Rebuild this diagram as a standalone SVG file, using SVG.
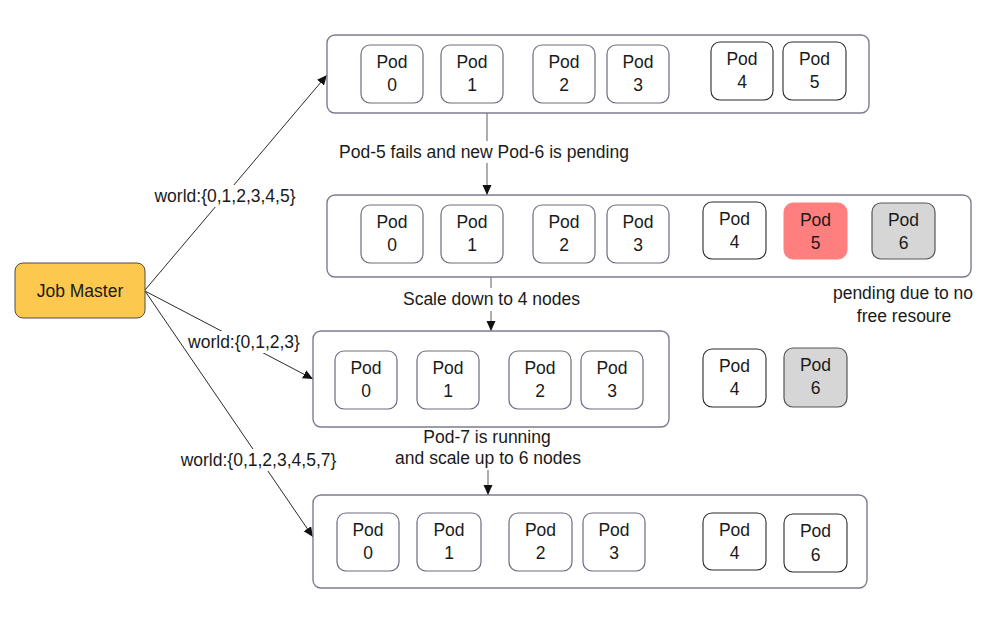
<svg xmlns="http://www.w3.org/2000/svg" width="988" height="618" viewBox="0 0 988 618">
<defs>
<marker id="arr" markerWidth="10" markerHeight="10" refX="10" refY="5" orient="auto" markerUnits="userSpaceOnUse" viewBox="0 0 10 10">
<path d="M0,0.5 L10,5 L0,9.5 Z" fill="#111"/>
</marker>
<style>
text{font-family:"Liberation Sans",Arial,sans-serif;font-size:17.5px;fill:#1a1a1a;text-anchor:middle}
.box{fill:#fff;stroke:#7c7c90;stroke-width:1.4}
.pod{fill:#fff;stroke:#6c6c80;stroke-width:1.2}
.podk{fill:#fff;stroke:#2a2a2a;stroke-width:1.1}
.red{fill:#FF7F7F;stroke:#FF7F7F;stroke-width:1}
.gray{fill:#D6D6D6;stroke:#555;stroke-width:1.2}
.ln{fill:none;stroke:#111;stroke-width:0.9}
.vl{fill:none;stroke:#777;stroke-width:1.2}
.bg{fill:#fff}
</style>
</defs>
<rect width="988" height="618" fill="#fff"/>

<g id="connectors">
<path class="ln" d="M145,290 L327,75" marker-end="url(#arr)"/>
<path class="ln" d="M145,291 L313,379" marker-end="url(#arr)"/>
<path class="ln" d="M145,291 L313,537" marker-end="url(#arr)"/>
<path class="vl" d="M487,113 L487,195" marker-end="url(#arr)"/>
<path class="vl" d="M491,277 L491,331" marker-end="url(#arr)"/>
<path class="vl" d="M488,427 L488,495" marker-end="url(#arr)"/>
</g>

<g id="jobmaster">
<rect x="15" y="263" width="130" height="55" rx="8" fill="#FCC84E" stroke="#4d4d4d" stroke-width="1"/>
<text x="80" y="297">Job Master</text>
</g>

<g id="labels">
<rect class="bg" x="154" y="185" width="142" height="22"/>
<text x="225" y="202">world:{0,1,2,3,4,5}</text>
<rect class="bg" x="189" y="331" width="110" height="22"/>
<text x="244" y="348">world:{0,1,2,3}</text>
<rect class="bg" x="181" y="449" width="155" height="22"/>
<text x="258.5" y="466">world:{0,1,2,3,4,5,7}</text>
<rect class="bg" x="335" y="141" width="298" height="22"/>
<text x="484" y="158">Pod-5 fails and new Pod-6 is pending</text>
<rect class="bg" x="398" y="288" width="187" height="23"/>
<text x="491.5" y="305">Scale down to 4 nodes</text>
<text x="903" y="299">pending due to no</text>
<text x="904" y="322">free resoure</text>
<rect class="bg" x="420" y="422" width="137" height="26"/>
<rect class="bg" x="391" y="448" width="194" height="22"/>
<text x="487" y="443">Pod-7 is running</text>
<text x="488" y="464">and scale up to 6 nodes</text>
</g>

<g id="stage1">
<rect class="box" x="327" y="35" width="542" height="78" rx="8"/>
<g id="s1-pod0"><rect class="pod" x="361" y="45" width="62" height="58" rx="9"/><text x="392" y="68">Pod</text><text x="392" y="91">0</text></g>
<g id="s1-pod1"><rect class="pod" x="441" y="45" width="62" height="58" rx="9"/><text x="472" y="68">Pod</text><text x="472" y="91">1</text></g>
<g id="s1-pod2"><rect class="pod" x="533" y="45" width="62" height="58" rx="9"/><text x="564" y="68">Pod</text><text x="564" y="91">2</text></g>
<g id="s1-pod3"><rect class="pod" x="607" y="45" width="62" height="58" rx="9"/><text x="638" y="68">Pod</text><text x="638" y="91">3</text></g>
<g id="s1-pod4"><rect class="podk" x="711" y="42" width="62" height="58" rx="9"/><text x="742" y="65">Pod</text><text x="742" y="88">4</text></g>
<g id="s1-pod5"><rect class="podk" x="783" y="42" width="63" height="58" rx="9"/><text x="814.5" y="65">Pod</text><text x="814.5" y="88">5</text></g>
</g>

<g id="stage2">
<rect class="box" x="327" y="195" width="644" height="82" rx="8"/>
<g id="s2-pod0"><rect class="pod" x="361" y="205" width="62" height="58" rx="9"/><text x="392" y="228">Pod</text><text x="392" y="251">0</text></g>
<g id="s2-pod1"><rect class="pod" x="441" y="205" width="62" height="58" rx="9"/><text x="472" y="228">Pod</text><text x="472" y="251">1</text></g>
<g id="s2-pod2"><rect class="pod" x="533" y="205" width="62" height="58" rx="9"/><text x="564" y="228">Pod</text><text x="564" y="251">2</text></g>
<g id="s2-pod3"><rect class="pod" x="607" y="205" width="62" height="58" rx="9"/><text x="638" y="228">Pod</text><text x="638" y="251">3</text></g>
<g id="s2-pod4"><rect class="podk" x="703" y="202" width="63" height="57" rx="9"/><text x="734.5" y="225">Pod</text><text x="734.5" y="248">4</text></g>
<g id="s2-pod5"><rect class="red" x="784" y="203" width="63" height="56" rx="9"/><text x="815.5" y="226">Pod</text><text x="815.5" y="249">5</text></g>
<g id="s2-pod6"><rect class="gray" x="872" y="203" width="63" height="56" rx="9"/><text x="903.5" y="226">Pod</text><text x="903.5" y="249">6</text></g>
</g>

<g id="stage3">
<rect class="box" x="313" y="331" width="356" height="96" rx="8"/>
<g id="s3-pod0"><rect class="pod" x="335" y="351" width="62" height="58" rx="9"/><text x="366" y="374">Pod</text><text x="366" y="397">0</text></g>
<g id="s3-pod1"><rect class="pod" x="417" y="351" width="62" height="58" rx="9"/><text x="448" y="374">Pod</text><text x="448" y="397">1</text></g>
<g id="s3-pod2"><rect class="pod" x="509" y="351" width="62" height="58" rx="9"/><text x="540" y="374">Pod</text><text x="540" y="397">2</text></g>
<g id="s3-pod3"><rect class="pod" x="581" y="351" width="62" height="58" rx="9"/><text x="612" y="374">Pod</text><text x="612" y="397">3</text></g>
</g>
<g id="s3-pod4"><rect class="podk" x="703" y="349" width="63" height="58" rx="9"/><text x="734.5" y="372">Pod</text><text x="734.5" y="395">4</text></g>
<g id="s3-pod6"><rect class="gray" x="784" y="348" width="63" height="59" rx="9"/><text x="815.5" y="371">Pod</text><text x="815.5" y="394">6</text></g>

<g id="stage4">
<rect class="box" x="313" y="495" width="554" height="93" rx="8"/>
<g id="s4-pod0"><rect class="pod" x="337" y="513" width="62" height="58" rx="9"/><text x="368" y="536">Pod</text><text x="368" y="559">0</text></g>
<g id="s4-pod1"><rect class="pod" x="417" y="513" width="64" height="58" rx="9"/><text x="449" y="536">Pod</text><text x="449" y="559">1</text></g>
<g id="s4-pod2"><rect class="pod" x="509" y="513" width="63" height="58" rx="9"/><text x="540.5" y="536">Pod</text><text x="540.5" y="559">2</text></g>
<g id="s4-pod3"><rect class="pod" x="583" y="513" width="62" height="58" rx="9"/><text x="614" y="536">Pod</text><text x="614" y="559">3</text></g>
<g id="s4-pod4"><rect class="podk" x="703" y="513" width="63" height="57" rx="9"/><text x="734.5" y="536">Pod</text><text x="734.5" y="559">4</text></g>
<g id="s4-pod6"><rect class="podk" x="784" y="514" width="63" height="58" rx="9"/><text x="815.5" y="537">Pod</text><text x="815.5" y="561">6</text></g>
</g>
</svg>
